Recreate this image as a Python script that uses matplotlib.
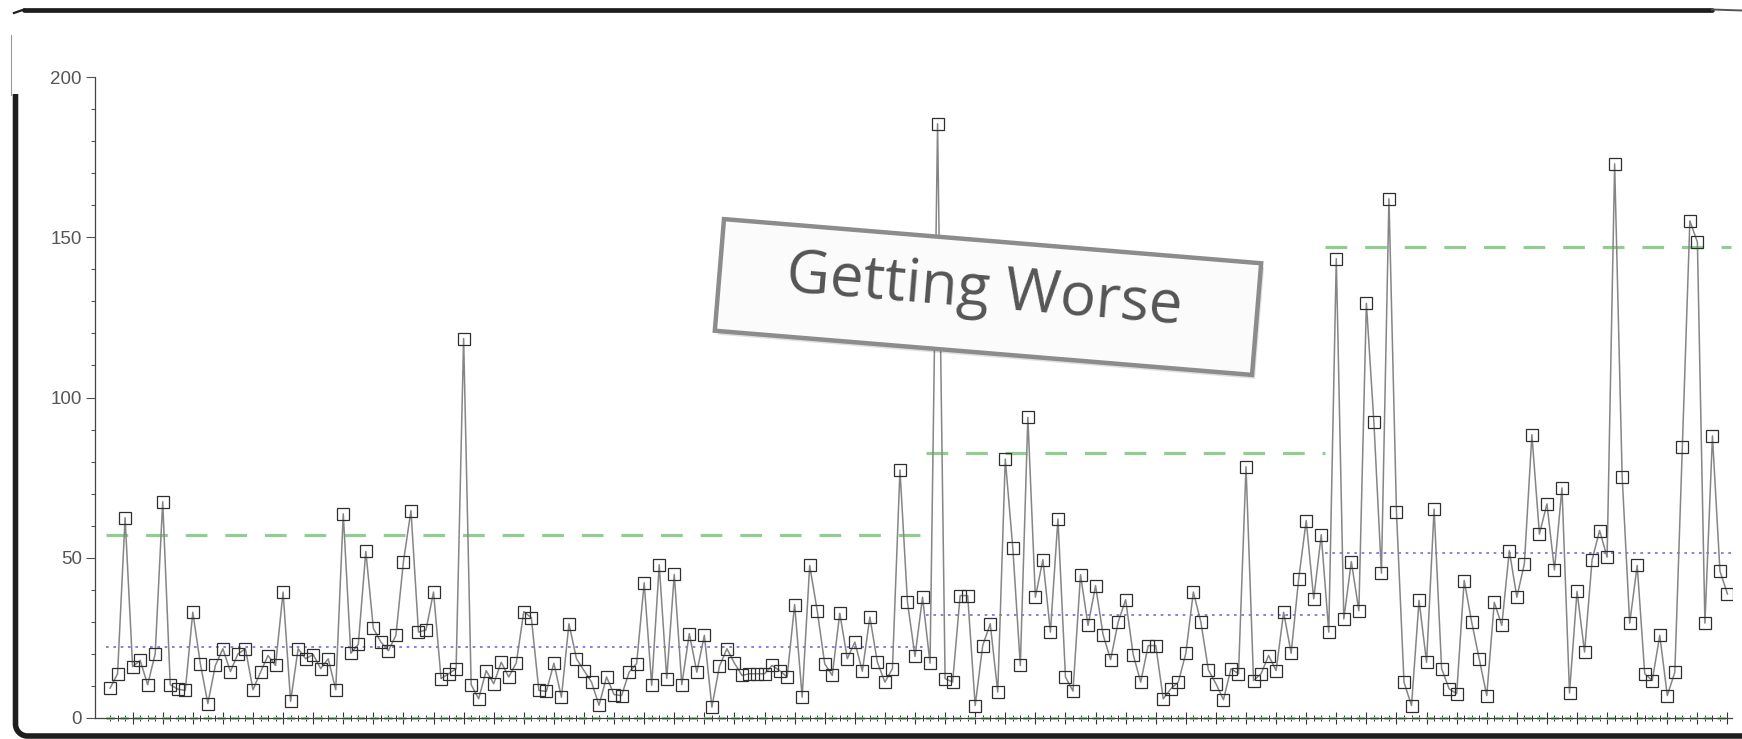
import numpy as np
import matplotlib
matplotlib.use("Agg")
import matplotlib.pyplot as plt
from matplotlib.ticker import FixedLocator, MultipleLocator, NullFormatter
from matplotlib.patches import Polygon

# Individual observations, in order of occurrence
values = [
    9.3, 13.8, 62.5, 16.0, 18.0, 10.4, 20.0, 67.5, 10.4, 9.0,
    8.6, 33.0, 17.0, 4.5, 16.4, 21.6, 14.5, 20.0, 21.6, 8.8,
    14.3, 19.5, 16.4, 39.3, 5.2, 21.6, 18.5, 19.8, 15.4, 18.5,
    8.8, 63.7, 20.2, 23.0, 52.0, 28.0, 23.7, 21.0, 25.8, 48.8,
    64.7, 26.8, 27.5, 39.3, 12.3, 13.8, 15.4, 118.4, 10.4, 6.0,
    14.8, 10.7, 17.4, 12.8, 17.2, 33.2, 31.3, 8.6, 8.3, 17.1,
    6.5, 29.4, 18.5, 14.8, 11.2, 4.0, 12.8, 7.3, 7.0, 14.3,
    17.0, 42.2, 10.2, 47.8, 12.3, 44.8, 10.4, 26.3, 14.3, 25.8,
    3.4, 16.1, 21.6, 17.1, 13.3, 13.8, 13.8, 13.8, 16.4, 14.8,
    12.8, 35.4, 6.5, 47.6, 33.5, 16.9, 13.3, 32.7, 18.5, 23.7,
    14.6, 31.5, 17.4, 11.2, 15.4, 77.4, 36.1, 19.2, 37.7, 17.1,
    185.4, 12.3, 11.2, 38.2, 38.2, 3.9, 22.6, 29.4, 8.1, 80.8,
    53.0, 16.4, 93.8, 37.7, 49.4, 26.8, 62.1, 12.8, 8.4, 44.7,
    28.9, 41.3, 26.0, 18.2, 29.9, 36.9, 19.8, 11.2, 22.6, 22.6,
    6.0, 9.1, 11.2, 20.2, 39.3, 29.9, 15.0, 10.7, 5.7, 15.4,
    13.8, 78.4, 11.7, 13.8, 19.5, 14.8, 33.0, 20.2, 43.4, 61.6,
    37.2, 57.2, 26.8, 143.3, 30.9, 48.8, 33.5, 129.4, 92.2, 45.2,
    162.0, 64.2, 11.2, 3.9, 36.7, 17.4, 65.2, 15.4, 9.1, 7.6,
    42.9, 29.9, 18.5, 7.0, 36.1, 28.9, 52.2, 37.7, 48.1, 88.4,
    57.4, 66.8, 46.2, 71.8, 7.8, 39.5, 20.6, 49.3, 58.5, 50.2,
    172.9, 75.3, 29.6, 47.6, 13.8, 11.7, 25.8, 7.0, 14.3, 84.4,
    155.1, 148.5, 29.6, 88.0, 45.8, 38.7,
]

# Control limits per phase (phase start index, upper limit, centre line)
segment_starts = [0, 109, 162]
upper_limits = [57.0, 82.8, 147.1]
center_lines = [22.3, 32.0, 51.5]
lower_limit = 0.0

y_ticks = [0, 50, 100, 150, 200]
note_text = "Getting Worse"

W, H = 1742, 739
fig = plt.figure(figsize=(W / 100, H / 100), dpi=100)
fig.patch.set_facecolor("white")

n = len(values)
x = np.arange(n)

left_px, right_px, bottom_px, top_px = 95, 1732, 718, 77
ax = fig.add_axes([left_px / W, (H - bottom_px) / H,
                   (right_px - left_px) / W, (bottom_px - top_px) / H])
ax.set_xlim(-2.0, 215.6)
ax.set_ylim(0, 200)
ax.set_facecolor("white")

for side in ("top", "right"):
    ax.spines[side].set_visible(False)
for side in ("left", "bottom"):
    ax.spines[side].set_color("#444444")
    ax.spines[side].set_linewidth(0.9)

# Phase limits
green = "#8fce8f"
blue = "#7070dc"
ends = segment_starts[1:] + [n]
for s, e, ucl, cl in zip(segment_starts, ends, upper_limits, center_lines):
    ax.plot([s - 0.5, e - 0.5], [ucl, ucl], color=green, lw=2.3,
            dashes=(6.8, 5.6), solid_capstyle="butt", zorder=2)
    ax.plot([s - 0.5, e - 0.5], [cl, cl], color=blue, lw=1.2,
            dashes=(1.6, 2.8), zorder=2)
ax.plot([-0.5, n - 0.5], [lower_limit, lower_limit], color=green, lw=2.0,
        dashes=(3.0, 2.0), zorder=2.5, clip_on=False)

# Observations
ax.plot(x, values, color="#858585", lw=1.1, zorder=3)
ax.plot(x, values, ls="none", marker="s", ms=8.8, mfc="none",
        mec="#2e2e2e", mew=0.9, zorder=4)

# Ticks
ax.yaxis.set_major_locator(FixedLocator(y_ticks))
ax.yaxis.set_minor_locator(MultipleLocator(10))
ax.tick_params(axis="y", which="major", direction="out", length=6.5,
               width=0.8, color="#555555", labelsize=13.5,
               labelcolor="#555555", pad=3)
ax.tick_params(axis="y", which="minor", direction="out", length=3,
               width=0.8, color="#555555")
for lab in ax.get_yticklabels():
    lab.set_family("Liberation Sans")

ax.xaxis.set_major_locator(FixedLocator(list(range(3, n, 4))))
ax.xaxis.set_minor_locator(FixedLocator(list(range(n))))
ax.xaxis.set_major_formatter(NullFormatter())
ax.tick_params(axis="x", which="major", direction="inout", length=8.5,
               width=0.8, color="#333333")
ax.tick_params(axis="x", which="minor", direction="inout", length=4.3,
               width=0.7, color="#333333")

# Overlay in pixel coordinates: window frame and the sticky note
ov = fig.add_axes([0, 0, 1, 1], zorder=10)
ov.set_xlim(0, W)
ov.set_ylim(H, 0)
ov.axis("off")
ov.patch.set_alpha(0)

frame = "#1e1e1e"
ov.plot([24, 1712], [9.5, 9.5], color=frame, lw=3.4, solid_capstyle="round")
ov.plot([1712, 1742], [9.5, 10.5], color="#555555", lw=1.4)
ov.plot([14, 24], [13, 9.5], color=frame, lw=1.6)
ov.plot([10.5, 10.5], [35, 95], color="#9a9a9a", lw=0.8)

r = 12.0
t = np.linspace(0, np.pi / 2, 20)
arc_x = 15.5 + r - r * np.cos(t)
arc_y = 736.0 - r + r * np.sin(t)
fx = np.concatenate([[15.5], arc_x, [W]])
fy = np.concatenate([[94], arc_y, [736.0]])
ov.plot(fx, fy, color=frame, lw=4.0, solid_capstyle="butt",
        solid_joinstyle="round")

# Sticky note
cx, cy, nw, nh, ang = 988.0, 297.0, 539.0, 112.0, np.deg2rad(4.7)
u = np.array([np.cos(ang), np.sin(ang)])
v = np.array([-np.sin(ang), np.cos(ang)])
c = np.array([cx, cy])
corners = [c - nw / 2 * u - nh / 2 * v, c + nw / 2 * u - nh / 2 * v,
           c + nw / 2 * u + nh / 2 * v, c - nw / 2 * u + nh / 2 * v]
shadow = [p + np.array([3, 4]) for p in corners]
ov.add_patch(Polygon(shadow, closed=True, facecolor="#000000", alpha=0.12,
                     edgecolor="none"))
ov.add_patch(Polygon(corners, closed=True, facecolor="#fbfbfb",
                     edgecolor="#8c8c8c", lw=3.2, joinstyle="miter"))
ov.text(984, 291, note_text, rotation=-4.7, rotation_mode="anchor",
        ha="center", va="center", fontsize=43, color="#555555",
        family="Open Sans")

fig.savefig("out.png", dpi=100, facecolor="white")
